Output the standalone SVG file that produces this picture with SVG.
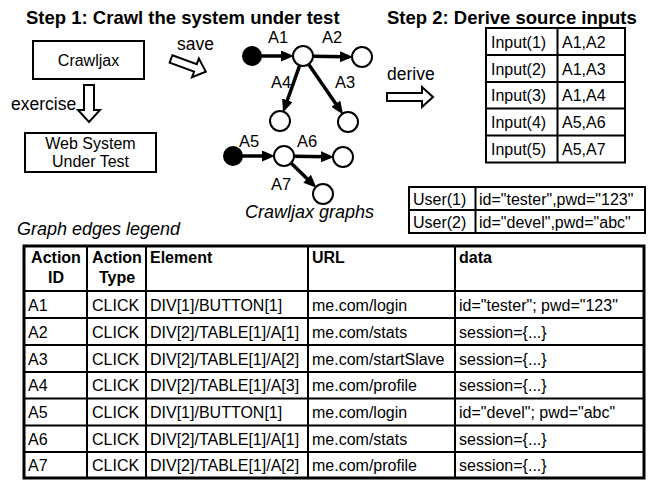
<svg xmlns="http://www.w3.org/2000/svg" width="652" height="480" viewBox="0 0 652 480">
<style>
text{font-family:"Liberation Sans",Arial,Helvetica,sans-serif;fill:#000}
.title{font-size:18.5px;font-weight:bold}
.lbl{font-size:17.5px}
.box{fill:#fff;stroke:#000;stroke-width:2}
.bt{font-size:16px}
.el{font-size:16.5px}
.cap{font-size:18px;font-style:italic}
.hollow{fill:#fff;stroke:#000;stroke-width:2;stroke-linejoin:miter}
.edge{stroke:#000;stroke-width:3.5;fill:none;marker-end:url(#ah)}
.st{fill:#fff;stroke:#000;stroke-width:2}
.sf{fill:#000;stroke:#000;stroke-width:2}
.grid{stroke:#000;stroke-width:2;fill:none}
.outer{stroke:#000;stroke-width:3;fill:none}
.tt{font-size:16px}
.th{font-size:16px;font-weight:bold}
.c{text-anchor:middle}
</style>
<defs>
<marker id="ah" markerUnits="userSpaceOnUse" markerWidth="13" markerHeight="11" refX="4" refY="5.5" orient="auto">
<path d="M0,0 L13,5.5 L0,11 z" fill="#000"/>
</marker>
</defs>

<text class="title" x="26" y="24">Step 1: Crawl the system under test</text>
<text class="title" x="387" y="24">Step 2: Derive source inputs</text>

<g id="crawljax">
<rect class="box" x="33" y="41" width="111" height="38"/>
<text class="bt c" x="88.5" y="66">Crawljax</text>
</g>
<g id="web-system">
<rect class="box" x="25" y="133" width="131" height="39"/>
<text class="bt c" x="90.5" y="149">Web System</text>
<text class="bt c" x="90.5" y="167">Under Test</text>
</g>

<g id="graph1-start"><circle class="sf" cx="252" cy="56" r="9"/></g>
<g id="graph1-n1"><circle class="st" cx="303" cy="56" r="10"/></g>
<g id="graph1-n2"><circle class="st" cx="362" cy="57" r="10"/></g>
<g id="graph1-n3"><circle class="st" cx="348" cy="122" r="10"/></g>
<g id="graph1-n4"><circle class="st" cx="280" cy="121" r="10"/></g>
<g id="graph2-start"><circle class="sf" cx="233" cy="156" r="9"/></g>
<g id="graph2-n1"><circle class="st" cx="284" cy="156" r="10"/></g>
<g id="graph2-n2"><circle class="st" cx="343" cy="157" r="10"/></g>
<g id="graph2-n3"><circle class="st" cx="323" cy="194" r="10"/></g>
<text class="cap" x="245" y="218">Crawljax graphs</text>

<g id="connectors">
<polygon class="hollow" points="84,85 94,85 94,110 100,110 89,122 78,110 84,110"/>
<text class="lbl" x="11" y="110">exercise</text>
<polygon class="hollow" transform="translate(171,59) rotate(20)" points="0,-4 26,-4 26,-10 37,0 26,10 26,4 0,4"/>
<text class="lbl" x="177" y="50">save</text>
<polygon class="hollow" points="387,93 422,93 422,87 433,97 422,107 422,101 387,101"/>
<text class="lbl" x="387" y="80">derive</text>

<line class="edge" x1="261" y1="56" x2="285" y2="56"/>
<line class="edge" x1="313" y1="56.2" x2="344" y2="56.8"/>
<line class="edge" x1="299.7" y1="65.4" x2="286" y2="104"/>
<line class="edge" x1="308.6" y1="64.3" x2="338" y2="107"/>
<line class="edge" x1="242" y1="156" x2="266" y2="156"/>
<line class="edge" x1="294" y1="156.2" x2="325" y2="156.8"/>
<line class="edge" x1="291" y1="163" x2="310" y2="181.5"/>
<text class="el" x="268" y="43">A1</text>
<text class="el" x="322" y="43">A2</text>
<text class="el" x="335" y="88">A3</text>
<text class="el" x="271" y="88">A4</text>
<text class="el" x="239" y="147">A5</text>
<text class="el" x="297" y="147">A6</text>
<text class="el" x="271" y="190">A7</text>
</g>

<g id="input-table">
<rect x="486" y="28" width="139" height="134.5" fill="#fff"/>
<path class="grid" d="M486,28H625V162.5H486Z M557.5,28V162.5 M486,55H625 M486,82H625 M486,108.5H625 M486,135.5H625"/>
<text class="tt" x="491" y="47.5">Input(1)</text><text class="tt" x="562" y="47.5">A1,A2</text>
<text class="tt" x="491" y="74.5">Input(2)</text><text class="tt" x="562" y="74.5">A1,A3</text>
<text class="tt" x="491" y="101">Input(3)</text><text class="tt" x="562" y="101">A1,A4</text>
<text class="tt" x="491" y="128">Input(4)</text><text class="tt" x="562" y="128">A5,A6</text>
<text class="tt" x="491" y="155">Input(5)</text><text class="tt" x="562" y="155">A5,A7</text>
</g>

<g id="user-table">
<path class="grid" d="M409,187H645V233H409Z M475.5,187V233 M409,210H645"/>
<text class="tt" x="413" y="204.5">User(1)</text><text class="tt" x="479" y="204.5">id="tester",pwd="123"</text>
<text class="tt" x="413" y="227.5">User(2)</text><text class="tt" x="479" y="227.5">id="devel",pwd="abc"</text>
</g>

<text class="cap" x="17" y="235">Graph edges legend</text>

<g id="legend-table">
<path class="grid" d="M87,246V478 M146,246V478 M308,246V478 M455,246V478 M24,291H644 M24,318H644 M24,345H644 M24,372H644 M24,398.5H644 M24,425.5H644 M24,452H644"/>
<rect class="outer" x="24" y="246" width="620" height="232"/>
<text class="th c" x="56" y="263">Action</text><text class="th c" x="56" y="283">ID</text>
<text class="th c" x="117" y="263">Action</text><text class="th c" x="117" y="283">Type</text>
<text class="th" x="150" y="263">Element</text>
<text class="th" x="312" y="263">URL</text>
<text class="th" x="459" y="263">data</text>

<text class="tt" x="28" y="310.5">A1</text><text class="tt" x="92" y="310.5">CLICK</text><text class="tt" x="150" y="310.5">DIV[1]/BUTTON[1]</text><text class="tt" x="312" y="310.5">me.com/login</text><text class="tt" x="459" y="310.5">id="tester"; pwd="123"</text>
<text class="tt" x="28" y="337.5">A2</text><text class="tt" x="92" y="337.5">CLICK</text><text class="tt" x="150" y="337.5">DIV[2]/TABLE[1]/A[1]</text><text class="tt" x="312" y="337.5">me.com/stats</text><text class="tt" x="459" y="337.5">session={...}</text>
<text class="tt" x="28" y="364.5">A3</text><text class="tt" x="92" y="364.5">CLICK</text><text class="tt" x="150" y="364.5">DIV[2]/TABLE[1]/A[2]</text><text class="tt" x="312" y="364.5">me.com/startSlave</text><text class="tt" x="459" y="364.5">session={...}</text>
<text class="tt" x="28" y="391">A4</text><text class="tt" x="92" y="391">CLICK</text><text class="tt" x="150" y="391">DIV[2]/TABLE[1]/A[3]</text><text class="tt" x="312" y="391">me.com/profile</text><text class="tt" x="459" y="391">session={...}</text>
<text class="tt" x="28" y="418">A5</text><text class="tt" x="92" y="418">CLICK</text><text class="tt" x="150" y="418">DIV[1]/BUTTON[1]</text><text class="tt" x="312" y="418">me.com/login</text><text class="tt" x="459" y="418">id="devel"; pwd="abc"</text>
<text class="tt" x="28" y="444.5">A6</text><text class="tt" x="92" y="444.5">CLICK</text><text class="tt" x="150" y="444.5">DIV[2]/TABLE[1]/A[1]</text><text class="tt" x="312" y="444.5">me.com/stats</text><text class="tt" x="459" y="444.5">session={...}</text>
<text class="tt" x="28" y="471">A7</text><text class="tt" x="92" y="471">CLICK</text><text class="tt" x="150" y="471">DIV[2]/TABLE[1]/A[2]</text><text class="tt" x="312" y="471">me.com/profile</text><text class="tt" x="459" y="471">session={...}</text>
</g>
</svg>
